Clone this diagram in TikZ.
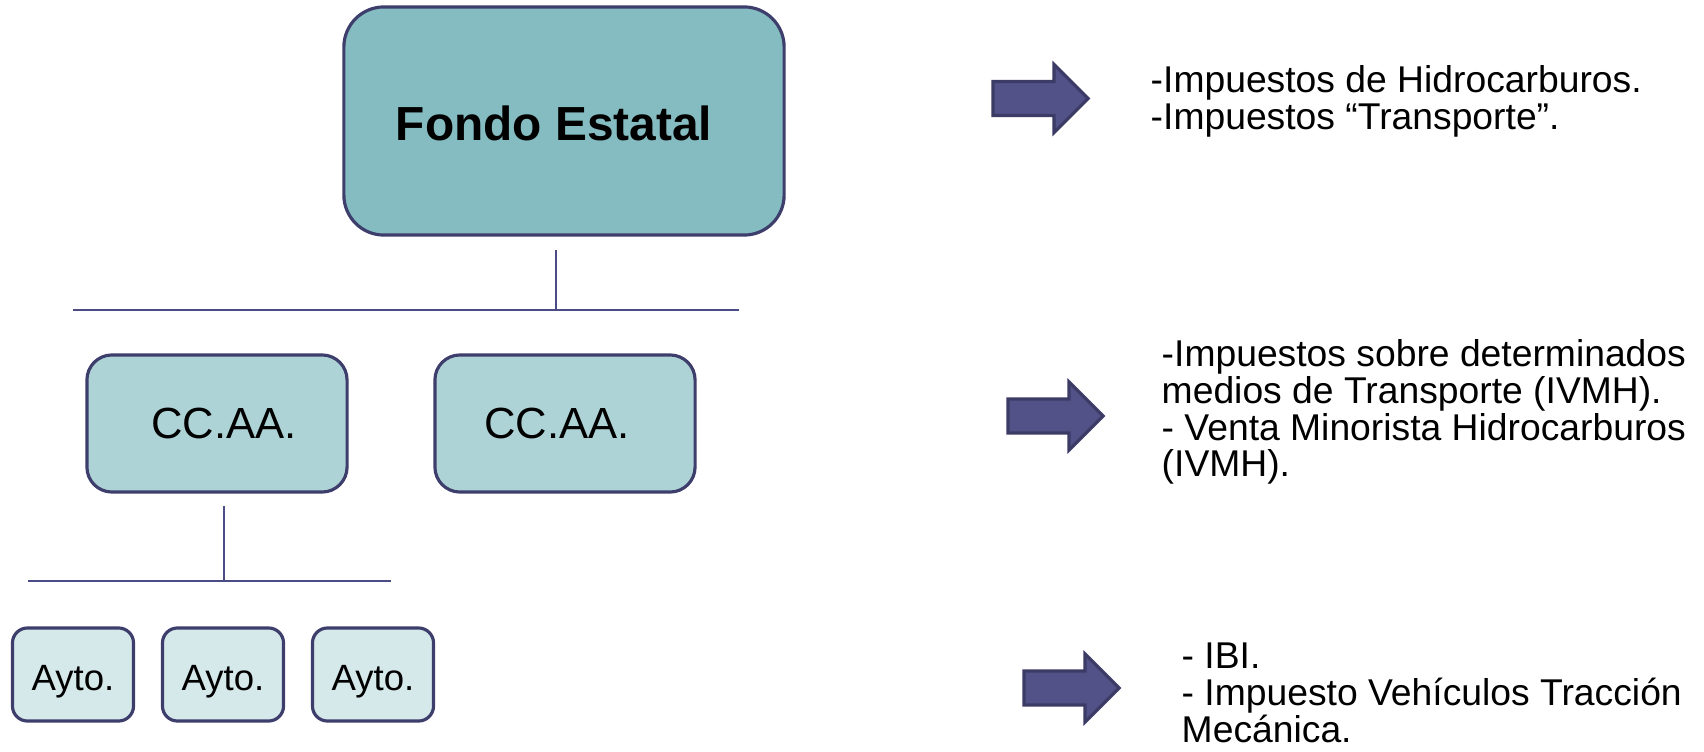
\documentclass[tikz,border=0pt]{standalone}
\usepackage{fontspec}
\setmainfont{Liberation Sans}
\usetikzlibrary{calc}
\definecolor{fondocol}{HTML}{84BCC1}
\definecolor{ccaacol}{HTML}{AED3D6}
\definecolor{aytocol}{HTML}{D5E8EA}
\definecolor{bordecol}{HTML}{3E3E6C}
\definecolor{lineacol}{HTML}{4B4B85}
\definecolor{flechacol}{HTML}{525288}
\definecolor{flechaborde}{HTML}{3B3B66}

\tikzset{
	caja/.style={draw=bordecol, line width=0.9pt, rectangle, inner sep=0pt, align=center},
	fondobox/.style={caja, fill=fondocol, rounded corners=0.4cm, minimum width=4.4cm, minimum height=2.28cm,
		text height=10.9pt, text depth=0pt, font=\fontsize{13.6pt}{16pt}\selectfont\bfseries},
	ccaabox/.style={caja, fill=ccaacol, rounded corners=0.25cm, minimum width=2.6cm, minimum height=1.37cm,
		font=\fontsize{12.4pt}{14pt}\selectfont},
	aytobox/.style={caja, fill=aytocol, rounded corners=0.15cm, minimum width=1.21cm, minimum height=0.93cm,
		text height=8.9pt, text depth=0pt, font=\fontsize{10.4pt}{12pt}\selectfont},
	linea/.style={draw=lineacol, line width=0.6pt},
	texto/.style={inner sep=0pt, align=left, anchor=west, font=\fontsize{10.6pt}{10.45pt}\selectfont},
	flecha/.pic={
		\draw[draw=flechaborde, fill=flechacol, line width=0.9pt, line join=miter]
			(0,-17) -- (61,-17) -- (61,-34) -- (95,0) -- (61,34) -- (61,17) -- (0,17) -- cycle;
	}
}

\begin{document}
\begin{tikzpicture}[x=0.01cm, y=-0.01cm]
		\useasboundingbox (0,0) rectangle (1704,752);

		\node[fondobox] (fondo) at (564,121) {\hspace*{-0.2cm}Fondo Estatal};

		\node[ccaabox] (ccaa1) at (217,423.5) {\hspace*{0.14cm}CC.AA.};
		\node[ccaabox] (ccaa2) at (565,423.5) {\hspace*{-0.16cm}CC.AA.};

		\node[aytobox] (ayto1) at (73,674.5) {Ayto.};
		\node[aytobox] (ayto2) at (223,674.5) {Ayto.};
		\node[aytobox] (ayto3) at (373,674.5) {Ayto.};

		\coordinate (e1) at (556,250);
		\coordinate (b1) at (556,310);
		\coordinate (bl1) at (73,310);
		\coordinate (br1) at (739,310);
		\draw[linea] (e1) -- (b1);
		\draw[linea] (bl1) -- (br1);

		\coordinate (e2) at (224,506);
		\coordinate (b2) at (224,581);
		\coordinate (bl2) at (28,581);
		\coordinate (br2) at (391,581);
		\draw[linea] (e2) -- (b2);
		\draw[linea] (bl2) -- (br2);

		\pic (fl1) at (993,98.5) {flecha};
		\pic (fl2) at (1008,416) {flecha};
		\pic (fl3) at (1024,688) {flecha};

		\node[texto] (t1) at (1150,101) {-Impuestos de Hidrocarburos.\\-Impuestos “Transporte”.};
		\node[texto] (t2) at (1161,412) {-Impuestos sobre determinados\\medios de Transporte (IVMH).\\- Venta Minorista Hidrocarburos\\(IVMH).};
		\node[texto] (t3) at (1181,693) {- IBI.\\- Impuesto Vehículos Tracción\\Mecánica.};
	\end{tikzpicture}
\end{document}
